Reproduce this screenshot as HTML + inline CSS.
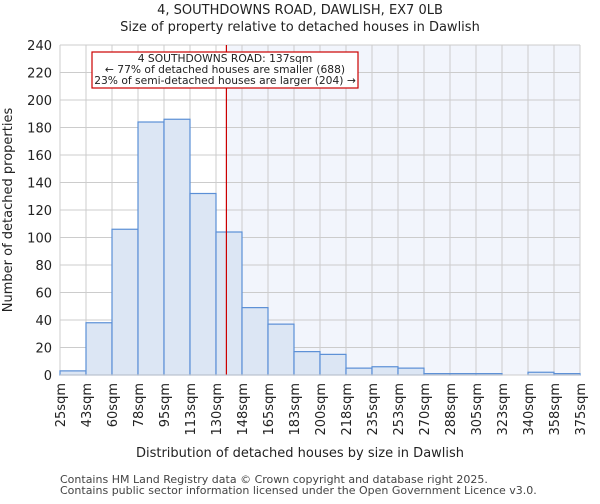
<!DOCTYPE html>
<html><head><meta charset="utf-8"><style>
body{margin:0;background:#fff;font-family:"DejaVu Sans","Liberation Sans",sans-serif}
</style></head><body>
<svg width="600" height="500" xmlns="http://www.w3.org/2000/svg" font-family="DejaVu Sans, Liberation Sans, sans-serif">
<text x="300" y="14" text-anchor="middle" font-size="13" fill="#222">4, SOUTHDOWNS ROAD, DAWLISH, EX7 0LB</text>
<text x="300" y="31" text-anchor="middle" font-size="13" fill="#222">Size of property relative to detached houses in Dawlish</text>
<g id="plot"></g>
<text x="300" y="457" text-anchor="middle" font-size="13" fill="#222">Distribution of detached houses by size in Dawlish</text>
<text transform="translate(12,210) rotate(-90)" text-anchor="middle" font-size="13" fill="#222">Number of detached properties</text>
<text x="60" y="483" font-size="11" fill="#444">Contains HM Land Registry data © Crown copyright and database right 2025.</text>
<text x="60" y="494" font-size="11" fill="#444">Contains public sector information licensed under the Open Government Licence v3.0.</text>
</svg>
<script>
const binStarts=[25,42.5,60,77.5,95,112.5,130,147.5,165,182.5,200,217.5,235,252.5,270,287.5,305,322.5,340,357.5];
const counts=[3,38,106,184,186,132,104,49,37,17,15,5,6,5,1,1,1,0,2,1];
const xTickLabels=["25sqm","43sqm","60sqm","78sqm","95sqm","113sqm","130sqm","148sqm","165sqm","183sqm","200sqm","218sqm","235sqm","253sqm","270sqm","288sqm","305sqm","323sqm","340sqm","358sqm","375sqm"];
const yTicks=[0,20,40,60,80,100,120,140,160,180,200,220,240];
const markerValue=137;
const binWidth=17.5;
const L=60,R=580,T=45,B=375,xMin=25,xMax=375,yMax=240;
const X=v=>L+(v-xMin)/(xMax-xMin)*(R-L);
const Y=v=>B-v/yMax*(B-T);
const NS="http://www.w3.org/2000/svg";
const g=document.getElementById('plot');
function mk(t,a,p){const e=document.createElementNS(NS,t);for(const k in a)e.setAttribute(k,a[k]);(p||g).appendChild(e);return e;}
const bg=mk('rect',{x:X(markerValue),y:T,width:R-X(markerValue),height:B-T,fill:'#f2f5fc'});


yTicks.forEach(v=>{
 const l=mk('line',{x1:L,x2:R,y1:Y(v),y2:Y(v),stroke:'#ccc','stroke-width':1});
 
 
 const t=mk('text',{x:L-8,y:Y(v)+5,'text-anchor':'end','font-size':13,fill:'#222'});
 t.textContent=v;
 
 
});
xTickLabels.forEach((s,i)=>{
 const x=X(xMin+i*binWidth);
 const l=mk('line',{x1:x,x2:x,y1:T,y2:B,stroke:'#ccc','stroke-width':1});
 
 
 const t=mk('text',{transform:`translate(${x+5},${B+8}) rotate(-90)`,'text-anchor':'end','font-size':13,fill:'#222'});
 t.textContent=s;
 
 
});
counts.forEach((c,i)=>{
 const x0=X(binStarts[i]),x1=X(binStarts[i]+binWidth);
 const r=mk('rect',{x:x0,y:Y(c),width:x1-x0,height:B-Y(c),fill:'#dce6f4',stroke:'#5b8fd6','stroke-width':1.2});
 
 
});
const ml=mk('line',{x1:X(markerValue),x2:X(markerValue),y1:T,y2:B,stroke:'#cc0000','stroke-width':1.2});


const box=mk('rect',{x:92,y:52,width:266,height:36,fill:'#fff',stroke:'#cc0000','stroke-width':1.2});


["4 SOUTHDOWNS ROAD: 137sqm","← 77% of detached houses are smaller (688)","23% of semi-detached houses are larger (204) →"].forEach((s,i)=>{
 const t=mk('text',{x:225,y:62+i*11,'text-anchor':'middle','font-size':10.7,fill:'#222'});
 t.textContent=s;
 
 
});
const ax=mk('line',{x1:L,x2:R,y1:B,y2:B,stroke:'#ccc'});


</script>
</body></html>
